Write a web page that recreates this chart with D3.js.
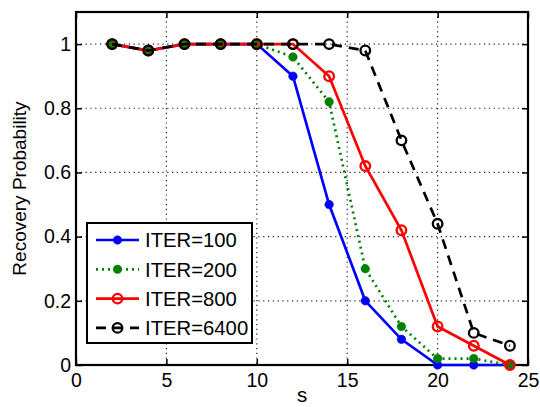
<!DOCTYPE html>
<html>
<head>
<meta charset="utf-8">
<script src="https://cdn.jsdelivr.net/npm/d3@7"></script>
<style>
  html, body { margin: 0; padding: 0; background: #fff; }
  svg { display: block; font-family: "Liberation Sans", Arial, sans-serif; }
</style>
</head>
<body>
<svg id="chart" width="540" height="407"></svg>
<script>
// Recovery probability vs. sparsity s for different iteration counts
const sValues = [2, 4, 6, 8, 10, 12, 14, 16, 18, 20, 22, 24];
const iter100  = [1, 0.98, 1, 1, 1, 0.90, 0.50, 0.20, 0.08, 0.00, 0.00, 0.00];
const iter200  = [1, 0.98, 1, 1, 1, 0.96, 0.82, 0.30, 0.12, 0.02, 0.02, 0.00];
const iter800  = [1, 0.98, 1, 1, 1, 1.00, 0.90, 0.62, 0.42, 0.12, 0.06, 0.00];
const iter6400 = [1, 0.98, 1, 1, 1, 1.00, 1.00, 0.98, 0.70, 0.44, 0.10, 0.06];
const seriesNames = ["ITER=100", "ITER=200", "ITER=800", "ITER=6400"];
const xTicks = [0, 5, 10, 15, 20, 25];
const yTicks = [0, 0.2, 0.4, 0.6, 0.8, 1];

const series = [
  { name: seriesNames[0], values: iter100,  color: "#0000ff", dash: null,   marker: "dot" },
  { name: seriesNames[1], values: iter200,  color: "#008000", dash: "2,4",  marker: "dot" },
  { name: seriesNames[2], values: iter800,  color: "#ff0000", dash: null,   marker: "circle" },
  { name: seriesNames[3], values: iter6400, color: "#000000", dash: "10,7", marker: "circle" }
];

const svg = d3.select("#chart");
const plotL = 76, plotR = 528, plotT = 12, plotB = 365;

const x = d3.scaleLinear().domain([0, 25]).range([plotL, plotR]);
const y = d3.scaleLinear().domain([0, 1.1]).range([plotB, plotT]);

// dotted grid
const grid = svg.append("g");
grid.selectAll("line.gx").data(xTicks.filter(t => t > 0 && t < 25)).join("line")
  .attr("class", "gx")
  .attr("x1", d => x(d)).attr("x2", d => x(d))
  .attr("y1", plotT).attr("y2", plotB)
  .attr("stroke", "#222").attr("stroke-width", 1.2).attr("stroke-dasharray", "1.2,3.6");
grid.selectAll("line.gy").data(yTicks.filter(t => t > 0)).join("line")
  .attr("class", "gy")
  .attr("x1", plotL).attr("x2", plotR)
  .attr("y1", d => y(d)).attr("y2", d => y(d))
  .attr("stroke", "#222").attr("stroke-width", 1.2).attr("stroke-dasharray", "1.2,3.6");

// axes (ticks point inward, mirrored on top/right)
const tickLen = 6;
const xAxis = d3.axisBottom(x).tickValues(xTicks).tickSize(-tickLen).tickPadding(8.5).tickFormat(d3.format("d"));
const yAxis = d3.axisLeft(y).tickValues(yTicks).tickSize(-tickLen).tickPadding(5)
  .tickFormat(d => d === 0 || d === 1 ? String(d) : d3.format(".1f")(d));

const gx = svg.append("g").attr("transform", `translate(0,${plotB})`).call(xAxis);
const gy = svg.append("g").attr("transform", `translate(${plotL},0)`).call(yAxis);
const gxt = svg.append("g").attr("transform", `translate(0,${plotT})`)
  .call(d3.axisTop(x).tickValues(xTicks).tickSize(-tickLen).tickFormat(""));
const gyr = svg.append("g").attr("transform", `translate(${plotR},0)`)
  .call(d3.axisRight(y).tickValues(yTicks).tickSize(-tickLen).tickFormat(""));

[gx, gy, gxt, gyr].forEach(g => {
  g.select(".domain").remove();
  g.selectAll(".tick line").attr("stroke", "#000").attr("stroke-width", 1.5);
  g.selectAll(".tick text").attr("fill", "#000").attr("font-size", 19.5)
    .attr("font-family", "'Liberation Sans', Arial, sans-serif");
});

// box
svg.append("rect").attr("x", plotL).attr("y", plotT)
  .attr("width", plotR - plotL).attr("height", plotB - plotT)
  .attr("fill", "none").attr("stroke", "#000").attr("stroke-width", 2.2);

// data series
const line = d3.line().x((d, i) => x(sValues[i])).y(d => y(d));
series.forEach(s => {
  const g = svg.append("g");
  g.append("path").datum(s.values)
    .attr("d", line).attr("fill", "none")
    .attr("stroke", s.color).attr("stroke-width", 2.7)
    .attr("stroke-dasharray", s.dash);
  g.selectAll("circle").data(s.values).join("circle")
    .attr("cx", (d, i) => x(sValues[i])).attr("cy", d => y(d))
    .attr("r", s.marker === "dot" ? 4.3 : 4.8)
    .attr("fill", s.marker === "dot" ? s.color : "none")
    .attr("stroke", s.color).attr("stroke-width", s.marker === "dot" ? 0.5 : 2.3);
});

// axis labels
svg.append("text").attr("x", x(12.5)).attr("y", 402)
  .attr("text-anchor", "middle").attr("font-size", 20.5).text("s");
svg.append("text")
  .attr("transform", `translate(26,${y(0.55)}) rotate(-90)`)
  .attr("text-anchor", "middle").attr("font-size", 19).text("Recovery Probability");

// legend
const lg = svg.append("g");
lg.append("rect").attr("x", 87).attr("y", 223).attr("width", 165).attr("height", 120)
  .attr("fill", "#fff").attr("stroke", "#000").attr("stroke-width", 2);
series.forEach((s, i) => {
  const yy = 240 + i * 29.3;
  lg.append("line").attr("x1", 96).attr("x2", 139).attr("y1", yy).attr("y2", yy)
    .attr("stroke", s.color).attr("stroke-width", 2.7).attr("stroke-dasharray", s.dash);
  lg.append("circle").attr("cx", 117.5).attr("cy", yy)
    .attr("r", s.marker === "dot" ? 4.3 : 4.8)
    .attr("fill", s.marker === "dot" ? s.color : "none")
    .attr("stroke", s.color).attr("stroke-width", s.marker === "dot" ? 0.5 : 2.3);
  lg.append("text").attr("x", 145).attr("y", yy).attr("dy", "0.36em")
    .attr("font-size", 20.3).text(s.name);
});
</script>
</body>
</html>
